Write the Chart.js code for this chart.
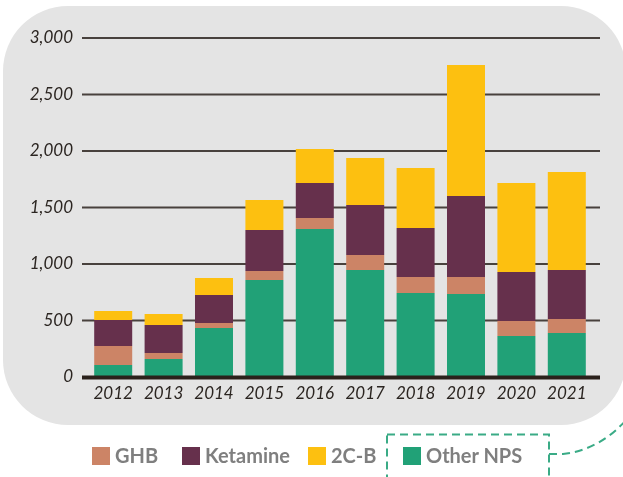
<!DOCTYPE html>
<html>
<head>
<meta charset="utf-8">
<script src="https://cdn.jsdelivr.net/npm/chart.js@4"></script>
<style>
  html, body { margin: 0; padding: 0; background: #fff; }
  #wrap { position: relative; width: 623px; height: 477px; overflow: hidden; }
  #chart { position: absolute; left: 0; top: 0; }
  .leg { position: absolute; top: 444px; font: bold 20px Lato, sans-serif; color: #7f7f7f; line-height: 22px; white-space: nowrap; }
  .leg span { display: inline-block; width: 18px; height: 18px; vertical-align: -2px; margin-right: 5px; }
  #deco { position: absolute; left: 0; top: 0; }
</style>
</head>
<body>
<div id="wrap">
  <canvas id="chart" width="623" height="477"></canvas>
  <svg id="deco" width="623" height="477">
    <rect x="387" y="434.5" width="162" height="70" fill="none" stroke="#3aab86" stroke-width="2" stroke-dasharray="8 5"/>
    <path d="M549 454 L563 454 Q600 450 628 418" fill="none" stroke="#3aab86" stroke-width="2" stroke-dasharray="8 5"/>
  </svg>
</div>
<script>
// data
var years = ["2012", "2013", "2014", "2015", "2016", "2017", "2018", "2019", "2020", "2021"];
var otherNps = [106, 159, 434, 858, 1310, 947, 743, 735, 363, 389];
var ghb      = [168, 53, 44, 80, 97, 133, 142, 150, 133, 124];
var ketamine = [230, 248, 248, 363, 310, 442, 434, 717, 433, 434];
var twoCB    = [80, 97, 150, 265, 301, 416, 531, 1159, 788, 867];
var yTicks = [0, 500, 1000, 1500, 2000, 2500, 3000];

var series = [
  { label: "Other NPS", data: otherNps, color: "#21a177" },
  { label: "GHB", data: ghb, color: "#cc8466" },
  { label: "Ketamine", data: ketamine, color: "#66304c" },
  { label: "2C-B", data: twoCB, color: "#fdc010" }
];
var legendOrder = ["GHB", "Ketamine", "2C-B", "Other NPS"];
var legendX = [92, 182, 308, 403];

// html legend
legendOrder.forEach(function (name, i) {
  var s = series.filter(function (d) { return d.label === name; })[0];
  var el = document.createElement('div');
  el.className = 'leg';
  el.style.left = legendX[i] + 'px';
  el.innerHTML = '<span style="background:' + s.color + '"></span>' + name;
  document.getElementById('wrap').appendChild(el);
});

// grey panel, grid lines and base line
var panel = {
  id: 'panel',
  beforeDraw: function (chart) {
    var ctx = chart.ctx;
    ctx.save();
    ctx.fillStyle = '#e4e4e4';
    ctx.beginPath();
    ctx.roundRect(3, 6, 623, 419, 65);
    ctx.fill();
    ctx.restore();
  },
  beforeDatasetsDraw: function (chart) {
    var ctx = chart.ctx, y = chart.scales.y;
    ctx.save();
    ctx.strokeStyle = '#48413d';
    ctx.lineWidth = 2;
    yTicks.forEach(function (v) {
      if (v === 0) return;
      var py = y.getPixelForValue(v);
      ctx.beginPath();
      ctx.moveTo(82, py);
      ctx.lineTo(600, py);
      ctx.stroke();
    });
    ctx.restore();
  },
  afterDatasetsDraw: function (chart) {
    var ctx = chart.ctx, y = chart.scales.y;
    var py = y.getPixelForValue(0);
    ctx.save();
    ctx.strokeStyle = '#2a211b';
    ctx.lineWidth = 4;
    ctx.beginPath();
    ctx.moveTo(82, py + 0.5);
    ctx.lineTo(600, py + 0.5);
    ctx.stroke();
    ctx.restore();
  }
};

var tickFont = { family: 'Lato', style: 'italic', size: 17 };

new Chart(document.getElementById('chart'), {
  type: 'bar',
  data: {
    labels: years,
    datasets: series.map(function (s) {
      return {
        label: s.label,
        data: s.data,
        backgroundColor: s.color,
        borderWidth: 0,
        categoryPercentage: 1,
        barPercentage: 0.754
      };
    })
  },
  options: {
    responsive: false,
    animation: false,
    layout: { padding: { top: 38, right: 31, left: 0, bottom: 0 } },
    plugins: { legend: { display: false }, tooltip: { enabled: false } },
    scales: {
      x: {
        stacked: true,
        grid: { display: false, drawTicks: false },
        border: { display: false },
        ticks: { color: '#2b2521', font: tickFont, padding: 6 },
        afterFit: function (s) { s.height = 100; }
      },
      y: {
        stacked: true,
        min: 0,
        max: 3000,
        grid: { display: false, drawTicks: false },
        border: { display: false },
        ticks: {
          stepSize: 500,
          color: '#2b2521',
          font: tickFont,
          padding: 15,
          callback: function (v) { return v.toLocaleString('en-US'); }
        },
        afterFit: function (s) { s.width = 88; }
      }
    }
  },
  plugins: [panel]
});
</script>
</body>
</html>
